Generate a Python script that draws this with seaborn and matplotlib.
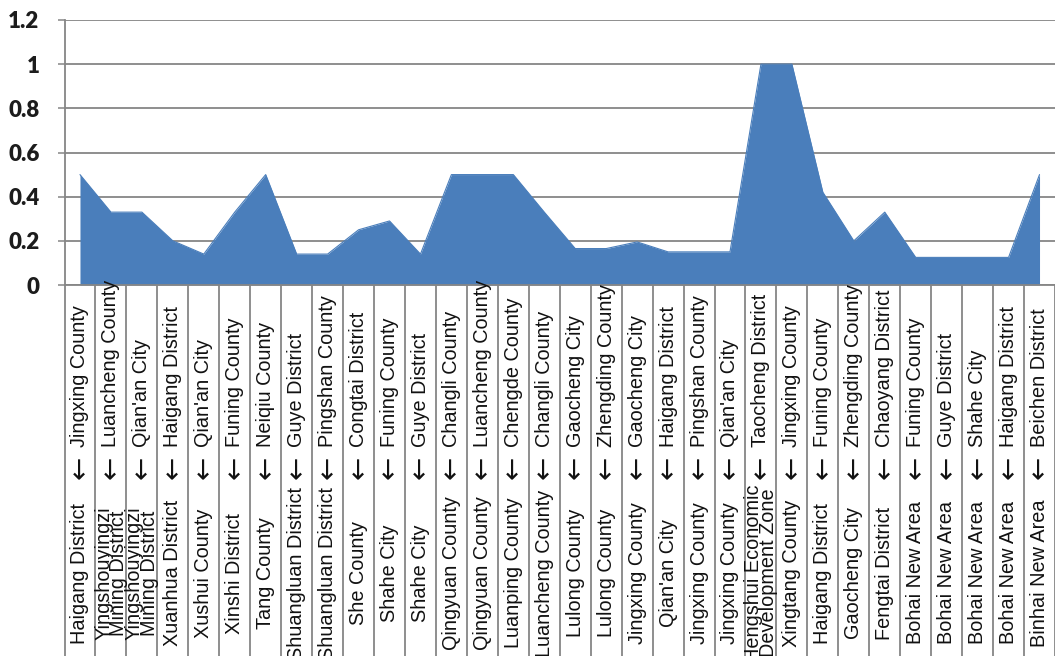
import numpy as np
import matplotlib
matplotlib.use("Agg")
import matplotlib.pyplot as plt
import matplotlib.transforms as mtransforms
import seaborn as sns

# flow pairs: label reads "source <- target" from bottom to top
targets = [
    "Jingxing County", "Luancheng County", "Qian'an City", "Haigang District",
    "Qian'an City", "Funing County", "Neiqiu County", "Guye District",
    "Pingshan County", "Congtai District", "Funing County", "Guye District",
    "Changli County", "Luancheng County", "Chengde County", "Changli County",
    "Gaocheng City", "Zhengding County", "Gaocheng City", "Haigang District",
    "Pingshan County", "Qian'an City", "Taocheng District", "Jingxing County",
    "Funing County", "Zhengding County", "Chaoyang District", "Funing County",
    "Guye District", "Shahe City", "Haigang District", "Beichen District",
]
sources = [
    "Haigang District", "Yingshouyingzi\nMining District",
    "Yingshouyingzi\nMining District", "Xuanhua District",
    "Xushui County", "Xinshi District", "Tang County", "Shuangluan District",
    "Shuangluan District", "She County", "Shahe City", "Shahe City",
    "Qingyuan County", "Qingyuan County", "Luanping County", "Luancheng County",
    "Lulong County", "Lulong County", "Jingxing County", "Qian'an City",
    "Jingxing County", "Jingxing County", "Hengshui Economic\nDevelopment Zone",
    "Xingtang County", "Haigang District", "Gaocheng City", "Fengtai District",
    "Bohai New Area", "Bohai New Area", "Bohai New Area", "Bohai New Area",
    "Binhai New Area",
]
values = [
    0.5, 0.33, 0.33, 0.2, 0.14, 0.33, 0.5, 0.14,
    0.14, 0.25, 0.29, 0.14, 0.5, 0.5, 0.5, 0.33,
    0.165, 0.165, 0.195, 0.15, 0.15, 0.15, 1.0, 1.0,
    0.42, 0.2, 0.33, 0.125, 0.125, 0.125, 0.125, 0.5,
]
y_ticks = [0, 0.2, 0.4, 0.6, 0.8, 1.0, 1.2]
y_tick_labels = ["0", "0.2", "0.4", "0.6", "0.8", "1", "1.2"]

blue = "#4a7ebb"
grey = "#868686"

sns.set_theme(style="white")
plt.rcParams["font.family"] = ["Liberation Sans", "DejaVu Sans"]
plt.rcParams["mathtext.fontset"] = "dejavusans"

W, H = 1055, 656
fig = plt.figure(figsize=(W / 100, H / 100), dpi=100)
fig.patch.set_facecolor("white")
ax = fig.add_axes([64.5 / W, 1 - 285 / H, (W - 64.5) / W, 265 / H])

pos = np.arange(len(values))
sns.lineplot(x=pos, y=values, ax=ax, color=blue, lw=0.8)
ax.fill_between(pos, values, color=blue, lw=0, zorder=2)

ax.set_xlim(-0.5, len(values) - 0.5)
ax.set_ylim(0, 1.2)
ax.set_yticks(y_ticks)
ax.set_yticklabels(y_tick_labels, fontfamily="Lato", fontweight="heavy",
                   fontsize=16, color="#1c1c1c")
ax.set_xticks([])
ax.tick_params(axis="y", length=5, width=1.1, color=grey, pad=13, left=True)
ax.yaxis.grid(True, color=grey, lw=1.3)
ax.set_axisbelow(True)
for side in ["top", "right"]:
    ax.spines[side].set_visible(False)
for side in ["left", "bottom"]:
    ax.spines[side].set_color(grey)
    ax.spines[side].set_linewidth(1.3)

# category "table" below the axis
trans = mtransforms.blended_transform_factory(ax.transData, fig.transFigure)
bounds = np.arange(-0.5, len(values), 1.0)
ax.vlines(bounds, 0, 1 - 285 / H, transform=trans, colors=grey,
          lw=1.3, clip_on=False)

for i, (tgt, src) in enumerate(zip(targets, sources)):
    ax.text(i, 1 - 447 / H, tgt, transform=trans, rotation=90, ha="center",
            va="bottom", fontsize=14.3, color="#111111")
    ax.text(i, 1 - 471 / H, r"$\leftarrow$", transform=trans, rotation=90,
            ha="center", va="center", fontsize=20, color="#111111")
    ax.text(i, 1 - 573 / H, src, transform=trans, rotation=90, ha="center",
            va="center", fontsize=14.3, color="#111111", linespacing=0.72,
            multialignment="center")

fig.savefig("out.png", dpi=100, facecolor="white")
